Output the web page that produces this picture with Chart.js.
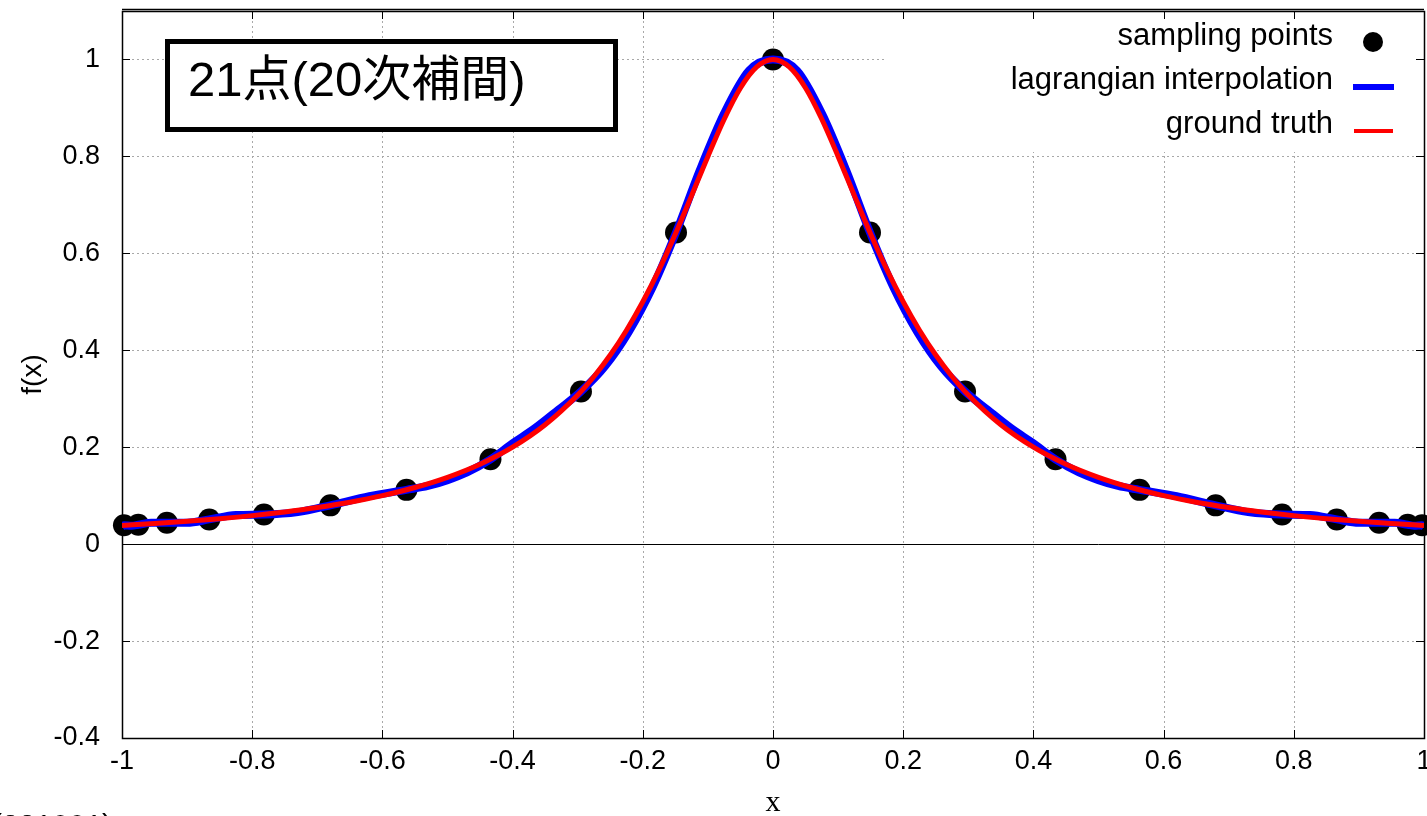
<!DOCTYPE html>
<html>
<head>
<meta charset="utf-8">
<title>21点(20次補間)</title>
<script src="https://cdn.jsdelivr.net/npm/chart.js@4.4.0/dist/chart.umd.min.js"></script>
<style>
    html, body { margin: 0; padding: 0; background: #fff; overflow: hidden; }
    #wrap { position: absolute; left: 0; top: 0; width: 1435px; height: 816px; }
</style>
</head>
<body>
<div id="wrap"><canvas id="chart"></canvas></div>
<script>
// ===== DATA =====
const xTicks = [-1, -0.8, -0.6, -0.4, -0.2, 0, 0.2, 0.4, 0.6, 0.8, 1];
const yTicks = [-0.4, -0.2, 0, 0.2, 0.4, 0.6, 0.8, 1];

const legendLabels = ['sampling points', 'lagrangian interpolation', 'ground truth'];
const boxTitle = '21点(20次補間)';
const footNote = '(221001)';

// sampling points (21 nodes)
const nodeX = [-0.997, -0.975, -0.931, -0.866, -0.782, -0.680, -0.563, -0.434, -0.295, -0.149, 0,
               0.149, 0.295, 0.434, 0.563, 0.680, 0.782, 0.866, 0.931, 0.975, 0.997];
const nodeY = [0.039, 0.040, 0.044, 0.051, 0.061, 0.080, 0.112, 0.175, 0.315, 0.643, 1.000,
               0.643, 0.315, 0.175, 0.112, 0.080, 0.061, 0.051, 0.044, 0.040, 0.039];

// lagrangian interpolation (blue)
const lagX = [-1.000, -0.997, -0.985, -0.975, -0.955, -0.931, -0.900, -0.866, -0.825, -0.782, -0.730,
              -0.680, -0.620, -0.563, -0.530, -0.500, -0.470, -0.434, -0.400, -0.365, -0.330, -0.295,
              -0.258, -0.222, -0.185, -0.149, -0.112, -0.075, -0.037, 0,
              0.037, 0.075, 0.112, 0.149, 0.185, 0.222, 0.258, 0.295, 0.330, 0.365, 0.400,
              0.434, 0.470, 0.500, 0.530, 0.563, 0.620, 0.680, 0.730, 0.782, 0.825,
              0.866, 0.900, 0.931, 0.955, 0.975, 0.985, 0.997, 1.000];
const lagY = [0.036, 0.039, 0.038, 0.040, 0.044, 0.044, 0.044, 0.051, 0.060, 0.061, 0.066,
              0.080, 0.099, 0.112, 0.120, 0.132, 0.148, 0.175, 0.208, 0.240, 0.277, 0.315,
              0.367, 0.437, 0.530, 0.643, 0.773, 0.889, 0.977, 1.000,
              0.977, 0.889, 0.773, 0.643, 0.530, 0.437, 0.367, 0.315, 0.277, 0.240, 0.208,
              0.175, 0.148, 0.132, 0.120, 0.112, 0.099, 0.080, 0.066, 0.061, 0.060,
              0.051, 0.044, 0.044, 0.044, 0.040, 0.038, 0.039, 0.036];

// ground truth (red)
const truthX = [-1.00, -0.95, -0.90, -0.85, -0.80, -0.75, -0.70, -0.65, -0.60, -0.55, -0.50, -0.45,
                -0.40, -0.35, -0.300, -0.275, -0.250, -0.225, -0.200, -0.175, -0.150, -0.125,
                -0.100, -0.075, -0.050, -0.025, 0,
                0.025, 0.050, 0.075, 0.100, 0.125, 0.150, 0.175, 0.200, 0.225, 0.250, 0.275, 0.300,
                0.35, 0.40, 0.45, 0.50, 0.55, 0.60, 0.65, 0.70, 0.75, 0.80, 0.85, 0.90, 0.95, 1.00];
const truthY = [0.0385, 0.0424, 0.0471, 0.0525, 0.0588, 0.0664, 0.0755, 0.0865, 0.1000, 0.1168, 0.1379, 0.1649,
                0.2000, 0.2462, 0.3077, 0.3459, 0.3902, 0.4414, 0.5000, 0.5664, 0.6400, 0.7191,
                0.8000, 0.8767, 0.9412, 0.9846, 1.0000,
                0.9846, 0.9412, 0.8767, 0.8000, 0.7191, 0.6400, 0.5664, 0.5000, 0.4414, 0.3902, 0.3459, 0.3077,
                0.2462, 0.2000, 0.1649, 0.1379, 0.1168, 0.1000, 0.0865, 0.0755, 0.0664, 0.0588, 0.0525, 0.0471, 0.0424, 0.0385];

// ===== STYLE =====
const SANS = "'Liberation Sans', Arial, sans-serif";
const SERIF = "'Liberation Serif', 'Times New Roman', serif";
const MIXED = "'Liberation Sans', 'Noto Sans CJK JP', sans-serif";

function toPoints(xs, ys) {
    return xs.map((x, i) => ({ x: x, y: ys[i] }));
}

function hLine(ctx, x1, x2, y) {
    ctx.beginPath();
    ctx.moveTo(x1, y);
    ctx.lineTo(x2, y);
    ctx.stroke();
}

function vLine(ctx, x, y1, y2) {
    ctx.beginPath();
    ctx.moveTo(x, y1);
    ctx.lineTo(x, y2);
    ctx.stroke();
}

// grid, zero line, frame and inward ticks in gnuplot style
const framePlugin = {
    id: 'gnuplotFrame',
    beforeDatasetsDraw(chart) {
        const { ctx, chartArea: a, scales } = chart;
        const sx = scales.x, sy = scales.y;
        ctx.save();

        ctx.strokeStyle = '#a8a8a8';
        ctx.lineWidth = 1;
        ctx.setLineDash([2, 3]);
        xTicks.forEach(v => {
            if (v <= -1 || v >= 1) return;
            const px = Math.round(sx.getPixelForValue(v)) + 0.5;
            vLine(ctx, px, a.top, a.bottom);
        });
        yTicks.forEach(v => {
            if (v === 0 || v <= -0.4) return;
            const py = Math.round(sy.getPixelForValue(v)) + 0.5;
            hLine(ctx, a.left, a.right, py);
        });
        ctx.setLineDash([]);

        // opaque key area
        ctx.fillStyle = '#fff';
        ctx.fillRect(885, a.top + 1, a.right - 885, 140);

        ctx.strokeStyle = '#000';
        ctx.lineWidth = 1;
        const y0 = Math.round(sy.getPixelForValue(0)) + 0.5;
        hLine(ctx, a.left, a.right, y0);

        // ticks
        const tl = 8;
        xTicks.forEach(v => {
            const px = Math.round(sx.getPixelForValue(v)) + 0.5;
            vLine(ctx, px, a.bottom, a.bottom - tl);
            vLine(ctx, px, a.top, a.top + tl);
        });
        yTicks.forEach(v => {
            const py = Math.round(sy.getPixelForValue(v)) + 0.5;
            hLine(ctx, a.left, a.left + tl, py);
            hLine(ctx, a.right, a.right - tl, py);
        });

        ctx.lineWidth = 1.5;
        ctx.strokeRect(Math.round(a.left) + 0.5, Math.round(a.top) + 0.5,
                       Math.round(a.right - a.left), Math.round(a.bottom - a.top));
        hLine(ctx, a.left, a.right, Math.round(a.top) - 1.5);
        ctx.restore();
    },
    afterDraw(chart) {
        const { ctx } = chart;
        ctx.save();

        // title box
        ctx.fillStyle = '#fff';
        ctx.fillRect(167, 41, 448, 88);
        ctx.strokeStyle = '#000';
        ctx.lineWidth = 5;
        ctx.strokeRect(167.5, 41.5, 448, 88);
        ctx.fillStyle = '#000';
        ctx.font = `49px ${MIXED}`;
        ctx.textAlign = 'left';
        ctx.textBaseline = 'alphabetic';
        ctx.fillText(boxTitle, 188, 96);

        // key
        const baselines = [45, 89, 133];
        ctx.font = `31px ${SANS}`;
        ctx.textAlign = 'right';
        legendLabels.forEach((t, i) => ctx.fillText(t, 1333, baselines[i]));
        ctx.beginPath();
        ctx.arc(1373, 42, 10, 0, Math.PI * 2);
        ctx.fill();
        ctx.fillStyle = '#0000ff';
        ctx.fillRect(1353, 84, 41, 6);
        ctx.fillStyle = '#ff0000';
        ctx.fillRect(1354, 129, 39, 4);

        // cut-off footnote
        ctx.fillStyle = '#000';
        ctx.font = `30px ${SANS}`;
        ctx.textAlign = 'left';
        ctx.textBaseline = 'top';
        ctx.fillText(footNote, -8, 812);
        ctx.restore();
    }
};

// ===== CHART =====
const chart = new Chart(document.getElementById('chart'), {
    type: 'scatter',
    data: {
        datasets: [
            {
                label: 'ground truth',
                data: toPoints(truthX, truthY),
                showLine: true,
                borderColor: '#ff0000',
                borderWidth: 5,
                pointRadius: 0,
                cubicInterpolationMode: 'monotone',
                order: 1
            },
            {
                label: 'lagrangian interpolation',
                data: toPoints(lagX, lagY),
                showLine: true,
                borderColor: '#0000ff',
                borderWidth: 8,
                pointRadius: 0,
                cubicInterpolationMode: 'monotone',
                order: 2
            },
            {
                label: 'sampling points',
                data: toPoints(nodeX, nodeY),
                showLine: false,
                pointRadius: 11,
                pointBackgroundColor: '#000',
                pointBorderWidth: 0,
                clip: false,
                order: 3
            }
        ]
    },
    options: {
        responsive: true,
        maintainAspectRatio: false,
        animation: false,
        events: [],
        layout: { padding: { top: 11, right: 8, left: 0, bottom: 0 } },
        plugins: {
            legend: { display: false },
            tooltip: { enabled: false }
        },
        scales: {
            x: {
                type: 'linear',
                min: -1,
                max: 1,
                afterBuildTicks: s => { s.ticks = xTicks.map(v => ({ value: v })); },
                afterFit: s => { s.height = 78; s.paddingLeft = 0; s.paddingRight = 0; },
                grid: { display: false, drawTicks: false, tickLength: 0 },
                border: { display: false },
                ticks: {
                    color: '#000',
                    padding: 7,
                    maxRotation: 0,
                    autoSkip: false,
                    font: { family: SANS, size: 27 },
                    callback: v => String(Number(v.toFixed(1)))
                },
                title: {
                    display: true,
                    text: 'x',
                    color: '#000',
                    font: { family: SERIF, size: 30 },
                    padding: { top: 0, bottom: -5 }
                }
            },
            y: {
                type: 'linear',
                min: -0.4,
                max: 1.1,
                afterBuildTicks: s => { s.ticks = yTicks.map(v => ({ value: v })); },
                afterFit: s => { s.width = 122; s.paddingTop = 0; s.paddingBottom = 0; },
                grid: { display: false, drawTicks: false, tickLength: 0 },
                border: { display: false },
                ticks: {
                    color: '#000',
                    padding: 22,
                    autoSkip: false,
                    font: { family: SANS, size: 27 },
                    callback: v => String(Number(v.toFixed(1)))
                },
                title: {
                    display: true,
                    text: 'f(x)',
                    color: '#000',
                    font: { family: SANS, size: 28 },
                    padding: { top: 16, bottom: 0 }
                }
            }
        }
    },
    plugins: [framePlugin]
});
</script>
</body>
</html>
